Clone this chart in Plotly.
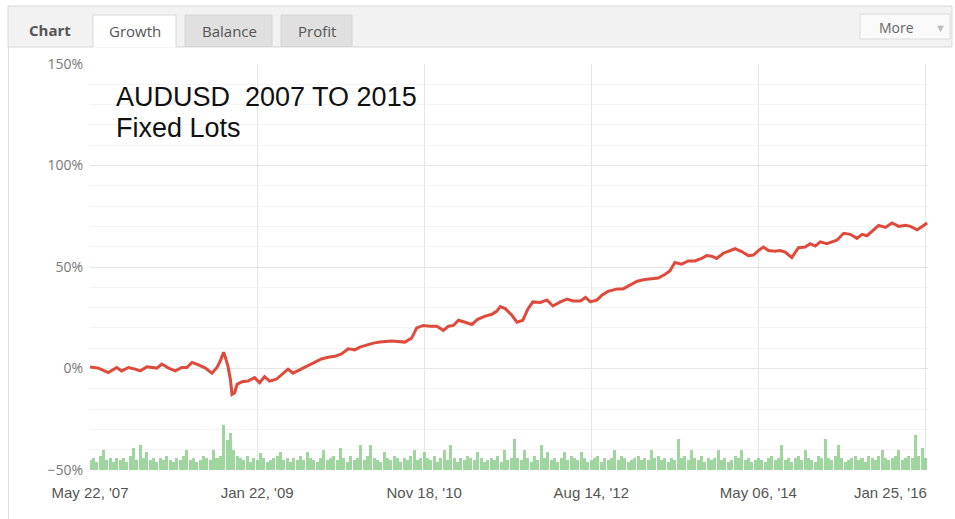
import plotly.graph_objects as go

# ---- data ----
growth_idx = [0, 10, 22, 32, 38, 46, 54, 60, 68, 74, 80, 86, 94, 102, 110, 116, 122, 130, 138, 146,
              152, 156, 160, 162, 165, 168, 170, 173, 176, 182, 189, 197, 203, 209, 215, 223, 229, 237,
              243, 251, 259, 269, 277, 285, 293, 301, 309, 317, 323, 331, 339,
              347, 361, 377, 385, 391, 399, 407, 415, 423, 429, 435, 441, 449, 457, 464, 473, 481, 487,
              491, 497, 505, 511, 518, 524, 530, 539, 547, 554, 563, 571, 578, 587, 593, 599, 607, 613,
              620, 631, 638, 646, 655, 664, 674,
              680, 688, 694, 700, 708, 716, 724, 732, 738, 744, 750, 758, 764, 772, 780, 788, 794, 800,
              806, 812, 820, 826, 832, 840, 848, 856, 862, 868, 874, 882, 888, 894, 902, 910, 918, 924,
              930, 936, 944, 952, 960, 968, 976, 982, 990, 996, 1002]
growth_pct = [0.8, 0.2, -2, 0.5, -1.2, 0.5, -0.3, -1.2, 0.8, 0.5, 0.2, 2.2, 0.2, -1.2, 0.5, 0.5, 3, 1.8, 0.2, -2.3,
              0.5, 3.8, 8, 5.5, 1.3, -5.3, -12.8, -12, -7.8, -6.5, -6.2, -4.5, -7, -4, -6.2, -5.3, -3.3, -0.3,
              -2.3, -0.7, 1.3, 3, 4.7, 5.5, 6, 7.2, 9.7, 9.2, 10.5, 11.5, 12.5,
              13, 13.5, 13, 15, 20, 21.2, 20.8, 20.8, 18.8, 20.8, 21.2, 23.8, 22.8, 21.7, 24.2, 25.8, 26.7, 28.3,
              30.5, 29.5, 26.2, 22.8, 23.7, 29.2, 32.8, 32.5, 33.8, 30.8, 32.8, 34.2, 33.3, 33.3, 35, 32.8, 33.8, 36.2,
              38, 39.2, 39.2, 40.8, 43, 43.8, 44.5,
              44.6, 46.3, 48, 52.2, 51.4, 53, 53, 54.2, 55.6, 55.3, 54.2, 56.8, 57.6, 59, 57.6, 55.6, 55.9, 58.1,
              59.8, 58.1, 57.8, 58.1, 57.3, 54.7, 59.5, 59.8, 61.5, 60.3, 62.4, 61.5, 62.4, 63.2, 66.6, 66.1, 64.1, 66.1,
              65.4, 67.5, 70.5, 69.5, 71.7, 70, 70.5, 70, 68.3, 70, 71.7]

bar_heights = [5, 6, 4, 7, 9.8, 5, 6, 4, 6, 5,
               6, 4, 7, 10.6, 5, 12.3, 6, 9, 5, 6,
               4, 6, 5, 7, 5, 4, 6, 5, 7, 9.8,
               5, 6, 4, 5, 7, 6, 5, 9.8, 6, 7,
               22, 14.7, 18, 9.8, 7, 6, 5, 7, 4, 6,
               5, 8.2, 6, 4, 5, 6, 7, 9, 5, 6,
               4, 6, 5, 7, 5, 9, 6, 5, 4, 6,
               9.8, 5, 6, 7, 5, 10.6, 6, 4, 7, 5,
               6, 12.3, 5, 7, 12.3, 6, 5, 4, 9, 6,
               5, 7, 6, 4, 6, 5, 7, 9.8, 5, 6,
               9, 6, 5, 7, 4, 6, 9.8, 5, 12.3, 6,
               4, 6, 5, 7, 6, 5, 9, 6, 4, 5,
               6, 5, 7, 4, 9.8, 5, 6, 15.5, 6, 5,
               9.8, 6, 4, 7, 5, 12.3, 6, 9, 5, 6,
               4, 6, 9, 5, 7, 6, 5, 9, 6, 4,
               5, 6, 7, 4, 6, 5, 6, 9.8, 5, 7,
               6, 4, 5, 6, 7, 5, 6, 5, 9.8, 6,
               7, 5, 6, 4, 6, 5, 15.5, 6, 7, 5,
               9.8, 6, 5, 7, 4, 6, 5, 6, 9.8, 5,
               6, 4, 5, 7, 6, 9.8, 5, 6, 4, 5,
               6, 5, 4, 6, 7, 5, 6, 12.3, 5, 6,
               4, 6, 7, 5, 9.8, 6, 5, 4, 7, 6,
               15.5, 6, 5, 7, 12.3, 6, 4, 5, 6, 7,
               5, 6, 4, 7, 6, 5, 7, 9.8, 6, 5,
               6, 7, 9.8, 5, 6, 7, 6, 17, 7, 10.6,
               6]
bar_idx = [4 * k for k in range(len(bar_heights))]

x_tick_vals = [0, 200, 400, 600, 800, 1000]
x_tick_text = ["May 22, '07", "Jan 22, '09", "Nov 18, '10", "Aug 14, '12", "May 06, '14", "Jan 25, '16"]
y_tick_vals = [-50, 0, 50, 100, 150]
y_tick_text = ["\u221250%", "0%", "50%", "100%", "150%"]

fig = go.Figure()
fig.add_trace(go.Bar(x=bar_idx, y=bar_heights, base=-50, width=3.6,
                     marker=dict(color="rgba(135,204,135,0.8)", line=dict(width=0)),
                     hoverinfo="skip", showlegend=False))
fig.add_trace(go.Scatter(x=growth_idx, y=growth_pct, mode="lines",
                         line=dict(color="#de4a3c", width=3), showlegend=False))

W, H = 955, 519
L, R, T, B = 90, 27, 64, 49
pw, ph = W - L - R, H - T - B


def px(x):
    return (x - L) / pw


def py(y):
    return (H - B - y) / ph


shapes = []
# header bar
shapes.append(dict(type="rect", xref="paper", yref="paper", x0=px(8), x1=px(952), y0=py(47), y1=py(6),
                   fillcolor="#f2f2f2", line=dict(color="#d9d9d9", width=1), layer="below"))
# body left border
shapes.append(dict(type="line", xref="paper", yref="paper", x0=px(8.5), x1=px(8.5), y0=py(47), y1=py(519),
                   line=dict(color="#dddddd", width=1)))
# tabs
shapes.append(dict(type="rect", xref="paper", yref="paper", x0=px(93), x1=px(176), y0=py(47.5), y1=py(15),
                   fillcolor="#ffffff", line=dict(width=0), layer="below"))
shapes.append(dict(type="path", xref="paper", yref="paper",
                   path="M %f,%f L %f,%f L %f,%f L %f,%f" % (px(93), py(47), px(93), py(15), px(176), py(15), px(176), py(47)),
                   line=dict(color="#d9d9d9", width=1)))
for a, b in [(185, 272), (281, 352)]:
    shapes.append(dict(type="rect", xref="paper", yref="paper", x0=px(a), x1=px(b), y0=py(46.5), y1=py(15),
                       fillcolor="#e0e0e0", line=dict(color="#d4d4d4", width=1), layer="below"))
# More button
shapes.append(dict(type="rect", xref="paper", yref="paper", x0=px(860), x1=px(950), y0=py(39), y1=py(14),
                   fillcolor="#fafafa", line=dict(color="#dcdcdc", width=1), layer="below"))

ui_font = "Open Sans, Verdana, sans-serif"
tick_font = dict(size=15, color="#555555", family="Liberation Sans, Arial, sans-serif")
ann = [
    dict(text="<b>Chart</b>", x=px(49.5), y=py(30), font=dict(size=15, color="#555555", family=ui_font)),
    dict(text="Growth", x=px(135), y=py(31), font=dict(size=15, color="#555555", family=ui_font)),
    dict(text="Balance", x=px(229), y=py(31), font=dict(size=15, color="#555555", family=ui_font)),
    dict(text="Profit", x=px(317), y=py(31), font=dict(size=15, color="#555555", family=ui_font)),
    dict(text="More", x=px(896), y=py(27.5), font=dict(size=14, color="#666666", family=ui_font)),
    dict(text="\u25BC", x=px(940), y=py(27), font=dict(size=11, color="#bbbbbb", family=ui_font)),
]
for a in ann:
    a.update(xref="paper", yref="paper", showarrow=False, xanchor="center", yanchor="middle")

# last x label is pushed inside the chart edge (right-aligned), as in the reference
ann.append(dict(text=x_tick_text[-1], xref="paper", yref="paper", x=px(929), y=py(492), showarrow=False,
                xanchor="right", yanchor="middle", font=tick_font))
x_tick_text_axis = x_tick_text[:-1] + [""]

for txt, yy in [("AUDUSD  2007 TO 2015", 96.5), ("Fixed Lots", 128.5)]:
    ann.append(dict(text=txt, xref="paper", yref="paper", x=px(114), y=py(yy), showarrow=False,
                    xanchor="left", yanchor="middle",
                    font=dict(size=27, color="#111111", family="Liberation Sans, Arial, sans-serif")))

fig.update_layout(
    width=W, height=H, autosize=False,
    margin=dict(l=L, r=R, t=T, b=B, pad=0),
    paper_bgcolor="#ffffff", plot_bgcolor="#ffffff",
    bargap=0, showlegend=False, hovermode=False,
    shapes=shapes, annotations=ann,
    xaxis=dict(range=[0, 1003], tickvals=x_tick_vals, ticktext=x_tick_text_axis,
               showgrid=True, gridcolor="#e6e6e6", gridwidth=1, zeroline=False, showline=False,
               ticks="", ticklabelstandoff=12, tickfont=tick_font),
    yaxis=dict(range=[-50, 150], tickvals=y_tick_vals, ticktext=y_tick_text,
               showgrid=True, gridcolor="#e4e4e4", gridwidth=1, zeroline=False, showline=False,
               ticks="", ticklabelstandoff=6,
               minor=dict(dtick=10, tick0=0, showgrid=True, gridcolor="#f3f3f3", gridwidth=1),
               tickfont=dict(size=14, color="#777777", family="Open Sans, sans-serif")),
)

fig.write_html("out.html", config={"displayModeBar": False},
               post_script="document.body.style.margin='0';document.body.style.overflow='hidden';")
